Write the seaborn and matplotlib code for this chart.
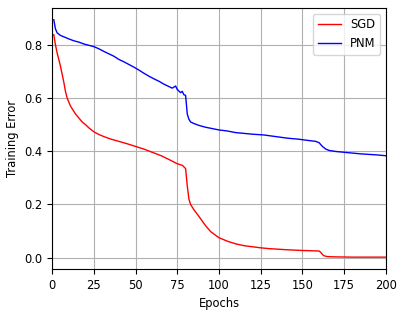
import pandas as pd
import matplotlib
matplotlib.use("Agg")
import matplotlib.pyplot as plt
import seaborn as sns

# SGD training error
sgd_epochs = [1, 2, 3, 4, 5, 6, 7, 8, 9, 10, 11, 12, 14, 16, 18, 20, 22, 25, 28, 31,
              35, 40, 45, 50, 55, 60, 65, 70, 75, 78, 80, 81, 82, 83, 85, 88, 92, 95,
              100, 105, 110, 115, 120, 125, 130, 140, 150, 155, 160, 161, 162, 163,
              165, 170, 180, 190, 200]
sgd_error = [0.838, 0.80, 0.77, 0.745, 0.72, 0.69, 0.66, 0.625, 0.60, 0.585, 0.57, 0.56,
             0.54, 0.525, 0.51, 0.50, 0.488, 0.473, 0.463, 0.455, 0.446, 0.437, 0.428,
             0.418, 0.408, 0.396, 0.384, 0.369, 0.353, 0.347, 0.335, 0.27, 0.22, 0.20,
             0.18, 0.155, 0.12, 0.098, 0.075, 0.062, 0.052, 0.045, 0.041, 0.037, 0.034,
             0.030, 0.027, 0.026, 0.025, 0.020, 0.012, 0.007, 0.004, 0.003, 0.002,
             0.002, 0.002]

# PNM training error
pnm_epochs = [1, 2, 3, 5, 7, 10, 13, 16, 19, 22, 25, 28, 31, 34, 37, 40, 43, 46, 49, 52,
              55, 58, 61, 64, 67, 70, 72, 74, 75, 77, 78, 79, 80, 81, 82, 83, 85, 88,
              92, 96, 100, 105, 110, 115, 120, 127, 134, 141, 148, 154, 158, 160, 162,
              164, 166, 170, 175, 180, 185, 190, 195, 200]
pnm_error = [0.894, 0.86, 0.845, 0.835, 0.83, 0.822, 0.815, 0.81, 0.803, 0.798, 0.793,
             0.785, 0.775, 0.766, 0.757, 0.745, 0.736, 0.726, 0.716, 0.705, 0.693, 0.682,
             0.672, 0.663, 0.652, 0.643, 0.637, 0.645, 0.632, 0.62, 0.625, 0.612, 0.61,
             0.54, 0.52, 0.51, 0.504, 0.497, 0.49, 0.485, 0.48, 0.476, 0.47, 0.467,
             0.464, 0.461, 0.455, 0.449, 0.445, 0.44, 0.437, 0.432, 0.418, 0.408, 0.403,
             0.399, 0.396, 0.393, 0.39, 0.388, 0.386, 0.383]

sgd = pd.DataFrame({'epoch': sgd_epochs, 'error': sgd_error})
pnm = pd.DataFrame({'epoch': pnm_epochs, 'error': pnm_error})

plt.rcParams['font.family'] = ['DejaVu Sans']
plt.rcParams['font.size'] = 8.3

fig = plt.figure(figsize=(4.07, 3.15), dpi=100)
ax = fig.add_axes([0.128, 0.146, 0.82, 0.829])

sns.lineplot(x='epoch', y='error', data=sgd, color='red', linewidth=1, label='SGD', ax=ax)
sns.lineplot(x='epoch', y='error', data=pnm, color='blue', linewidth=1, label='PNM', ax=ax)

ax.set_xlim(0, 200)
ax.set_xticks([0, 25, 50, 75, 100, 125, 150, 175, 200])
ax.set_yticks([0.0, 0.2, 0.4, 0.6, 0.8])
ax.set_xlabel('Epochs')
ax.set_ylabel('Training Error')
ax.grid(True, color='#b0b0b0', linewidth=0.8)
for s in ax.spines.values():
    s.set_color('black')
    s.set_linewidth(0.8)
ax.legend(loc='upper right')

fig.savefig('out.png', dpi=100)
